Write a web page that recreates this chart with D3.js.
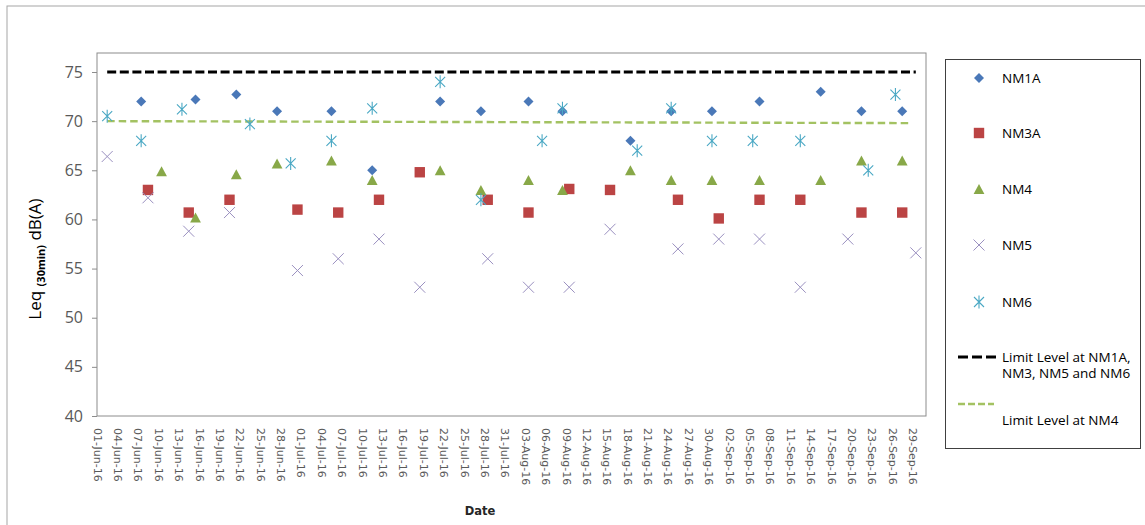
<!DOCTYPE html>
<html>
<head>
<meta charset="utf-8">
<script src="https://cdn.jsdelivr.net/npm/d3@7"></script>
<style>
body { margin: 0; background: #fff; }
svg { display: block; font-family: 'Open Sans', sans-serif; }
</style>
</head>
<body>
<svg></svg>
<script>
// readings, dates as printed on the axis
let nm1aDates = ['07-Jun-16','15-Jun-16','21-Jun-16','27-Jun-16','05-Jul-16','11-Jul-16','21-Jul-16','27-Jul-16','03-Aug-16','08-Aug-16','18-Aug-16','24-Aug-16','30-Aug-16','06-Sep-16','15-Sep-16','21-Sep-16','27-Sep-16']
let nm1aValues = [72, 72.2, 72.7, 71, 71, 65, 72, 71, 72, 71, 68, 71, 71, 72, 73, 71, 71]

let nm3aDates = ['08-Jun-16','14-Jun-16','20-Jun-16','30-Jun-16','06-Jul-16','12-Jul-16','18-Jul-16','28-Jul-16','03-Aug-16','09-Aug-16','15-Aug-16','25-Aug-16','31-Aug-16','06-Sep-16','12-Sep-16','21-Sep-16','27-Sep-16']
let nm3aValues = [63, 60.7, 62, 61, 60.7, 62, 64.8, 62, 60.7, 63.1, 63, 62, 60.1, 62, 62, 60.7, 60.7]

let nm4Dates = ['10-Jun-16','15-Jun-16','21-Jun-16','27-Jun-16','05-Jul-16','11-Jul-16','21-Jul-16','27-Jul-16','03-Aug-16','08-Aug-16','18-Aug-16','24-Aug-16','30-Aug-16','06-Sep-16','15-Sep-16','21-Sep-16','27-Sep-16']
let nm4Values = [64.9, 60.2, 64.6, 65.7, 66, 64, 65, 63, 64, 63, 65, 64, 64, 64, 64, 66, 66]

let nm5Dates = ['02-Jun-16','08-Jun-16','14-Jun-16','20-Jun-16','30-Jun-16','06-Jul-16','12-Jul-16','18-Jul-16','28-Jul-16','03-Aug-16','09-Aug-16','15-Aug-16','25-Aug-16','31-Aug-16','06-Sep-16','12-Sep-16','19-Sep-16','29-Sep-16']
let nm5Values = [66.4, 62.2, 58.8, 60.7, 54.8, 56, 58, 53.1, 56, 53.1, 53.1, 59, 57, 58, 58, 53.1, 58, 56.6]

let nm6Dates = ['02-Jun-16','07-Jun-16','13-Jun-16','23-Jun-16','29-Jun-16','05-Jul-16','11-Jul-16','21-Jul-16','27-Jul-16','05-Aug-16','08-Aug-16','19-Aug-16','24-Aug-16','30-Aug-16','05-Sep-16','12-Sep-16','22-Sep-16','26-Sep-16']
let nm6Values = [70.5, 68, 71.2, 69.7, 65.7, 68, 71.3, 74, 62, 68, 71.3, 67, 71.3, 68, 68, 68, 65, 72.7]

let limitDates = ['02-Jun-16','29-Sep-16']
let limitValues = [75, 75]
let limitNm4Dates = ['02-Jun-16','28-Sep-16']
let limitNm4Values = [70, 69.8]

let yTicks = [40, 45, 50, 55, 60, 65, 70, 75]
let firstLabel = '01-Jun-16'
let lastLabel = '29-Sep-16'
let labelStep = 3

let width = 1145
let height = 525
let plotLeft = 97
let plotRight = 926
let plotTop = 53
let plotBottom = 416

let svg = d3.select('svg')
let parseDate = d3.timeParse('%d-%b-%y')
// each reading sits in the middle of its day
let midDay = (s) => d3.timeHour.offset(parseDate(s), 12)

let xScale
let yScale

let shapes = {
    diamond: (g, c) => g.append('path').attr('d', 'M0,-5L5,0L0,5L-5,0Z').attr('fill', c),
    square: (g, c) => g.append('rect').attr('x', -5.2).attr('y', -5.2).attr('width', 10.4).attr('height', 10.4).attr('fill', c),
    triangle: (g, c) => g.append('path').attr('d', 'M0,-5L5.4,5L-5.4,5Z').attr('fill', c),
    cross: (g, c) => g.append('path').attr('d', 'M-5.5,-5.5L5.5,5.5M-5.5,5.5L5.5,-5.5').attr('stroke', c).attr('stroke-width', 1).attr('fill', 'none'),
    star: (g, c) => g.append('path').attr('d', 'M-5,-5L5,5M-5,5L5,-5M0,-6.5L0,6.5').attr('stroke', c).attr('stroke-width', 1.1).attr('fill', 'none')
}

let series = [
    {name: 'NM1A', dates: nm1aDates, values: nm1aValues, shape: 'diamond', color: '#4a78b8'},
    {name: 'NM3A', dates: nm3aDates, values: nm3aValues, shape: 'square', color: '#bb4444'},
    {name: 'NM4', dates: nm4Dates, values: nm4Values, shape: 'triangle', color: '#88a848'},
    {name: 'NM5', dates: nm5Dates, values: nm5Values, shape: 'cross', color: '#9a90c0'},
    {name: 'NM6', dates: nm6Dates, values: nm6Values, shape: 'star', color: '#4aa8c4'}
]

let limits = [
    {dates: limitDates, values: limitValues, color: '#000', width: 3.2, dash: '9,3.6'},
    {dates: limitNm4Dates, values: limitNm4Values, color: '#a3c262', width: 2.4, dash: '7.5,4'}
]

drawCanvas = () => {
    svg.attr('width', width).attr('height', height)
    svg.append('rect')
    .attr('x', 7).attr('y', 6)
    .attr('width', width).attr('height', height)
    .attr('fill', '#fff').attr('stroke', '#a6a6a6')
}

generateScale = () => {
    xScale = d3.scaleTime()
    .domain([parseDate('01-Jun-16'), parseDate('01-Oct-16')])
    .range([plotLeft, plotRight])

    yScale = d3.scaleLinear()
    .domain([40, 75])
    .range([plotBottom, 72])
}

generateAxis = () => {
    svg.append('rect')
    .attr('x', plotLeft).attr('y', plotTop)
    .attr('width', plotRight - plotLeft).attr('height', plotBottom - plotTop)
    .attr('fill', 'none').attr('stroke', '#8c8c8c')

    let yAxis = d3.axisLeft(yScale)
    .tickValues(yTicks)
    .tickSize(5)
    .tickSizeOuter(0)
    .tickPadding(9)

    let yg = svg.append('g')
    .attr('transform', 'translate(' + plotLeft + ',0)')
    .call(yAxis)
    yg.select('.domain').remove()
    yg.selectAll('line').attr('stroke', '#8c8c8c')
    yg.selectAll('text')
    .attr('fill', '#595959')
    .style('font-size', '16px')
    .style('font-family', "'Open Sans', sans-serif")

    let xTicks = d3.timeDay.range(parseDate(firstLabel), d3.timeDay.offset(parseDate(lastLabel), 1), labelStep)
    let xAxis = d3.axisBottom(xScale)
    .tickValues(xTicks)
    .tickFormat(d3.timeFormat('%d-%b-%y'))
    .tickSize(0)

    let xg = svg.append('g')
    .attr('transform', 'translate(0,' + plotBottom + ')')
    .call(xAxis)
    xg.select('.domain').remove()
    xg.selectAll('text')
    .attr('transform', 'rotate(90)')
    .attr('x', 12).attr('y', 0).attr('dy', '0.35em')
    .attr('text-anchor', 'start')
    .attr('fill', '#595959')
    .style('font-size', '11px')
    .style('font-family', "'DejaVu Sans', sans-serif")

    let yTitle = svg.append('text')
    .attr('transform', 'translate(41,259) rotate(-90)')
    .attr('text-anchor', 'middle')
    .attr('fill', '#000')
    .style('font-size', '17px')
    yTitle.append('tspan').text('Leq ')
    yTitle.append('tspan').attr('dy', 4).style('font-size', '11px').style('font-weight', 'bold').text('(30min)')
    yTitle.append('tspan').attr('dy', -4).text(' dB(A)')

    svg.append('text')
    .attr('x', 480).attr('y', 515)
    .attr('text-anchor', 'middle')
    .style('font-family', "'DejaVu Sans', sans-serif")
    .style('font-size', '11.5px')
    .style('font-weight', 'bold')
    .attr('fill', '#262626')
    .text('Date')
}

drawLimits = () => {
    limits.forEach((l) => {
        let pts = l.dates.map((d, i) => [midDay(d), l.values[i]])
        svg.append('path')
        .datum(pts)
        .attr('d', d3.line().x((p) => xScale(p[0])).y((p) => yScale(p[1])))
        .attr('fill', 'none')
        .attr('stroke', l.color)
        .attr('stroke-width', l.width)
        .attr('stroke-dasharray', l.dash)
    })
}

drawPoints = () => {
    series.forEach((s) => {
        let pts = s.dates.map((d, i) => ({date: midDay(d), value: s.values[i]}))
        svg.append('g')
        .selectAll('g')
        .data(pts)
        .enter()
        .append('g')
        .attr('transform', (d) => 'translate(' + xScale(d.date) + ',' + yScale(d.value) + ')')
        .each(function () { shapes[s.shape](d3.select(this), s.color) })
    })
}

drawLegend = () => {
    svg.append('rect')
    .attr('x', 945.5).attr('y', 59.5)
    .attr('width', 195).attr('height', 389)
    .attr('fill', '#fff').attr('stroke', '#404040')

    let rowY = [78, 133, 189, 245, 302]
    series.forEach((s, i) => {
        let g = svg.append('g').attr('transform', 'translate(979,' + rowY[i] + ')')
        shapes[s.shape](g, s.color)
        svg.append('text')
        .attr('x', 1002).attr('y', rowY[i]).attr('dy', '0.35em')
        .style('font-size', '13.5px').attr('fill', '#000')
        .text(s.name)
    })

    svg.append('line')
    .attr('x1', 958).attr('x2', 998).attr('y1', 357).attr('y2', 357)
    .attr('stroke', limits[0].color).attr('stroke-width', limits[0].width)
    .attr('stroke-dasharray', '10,4')
    svg.append('text').attr('x', 1002).attr('y', 357).attr('dy', '0.35em')
    .style('font-size', '13.5px').text('Limit Level at NM1A,')
    svg.append('text').attr('x', 1002).attr('y', 373).attr('dy', '0.35em')
    .style('font-size', '13.5px').text('NM3, NM5 and NM6')

    svg.append('line')
    .attr('x1', 958).attr('x2', 994).attr('y1', 404).attr('y2', 404)
    .attr('stroke', limits[1].color).attr('stroke-width', limits[1].width)
    .attr('stroke-dasharray', '7,3')
    svg.append('text').attr('x', 1002).attr('y', 420).attr('dy', '0.35em')
    .style('font-size', '13.5px').text('Limit Level at NM4')
}

drawCanvas()
generateScale()
generateAxis()
drawLimits()
drawPoints()
drawLegend()
</script>
</body>
</html>
